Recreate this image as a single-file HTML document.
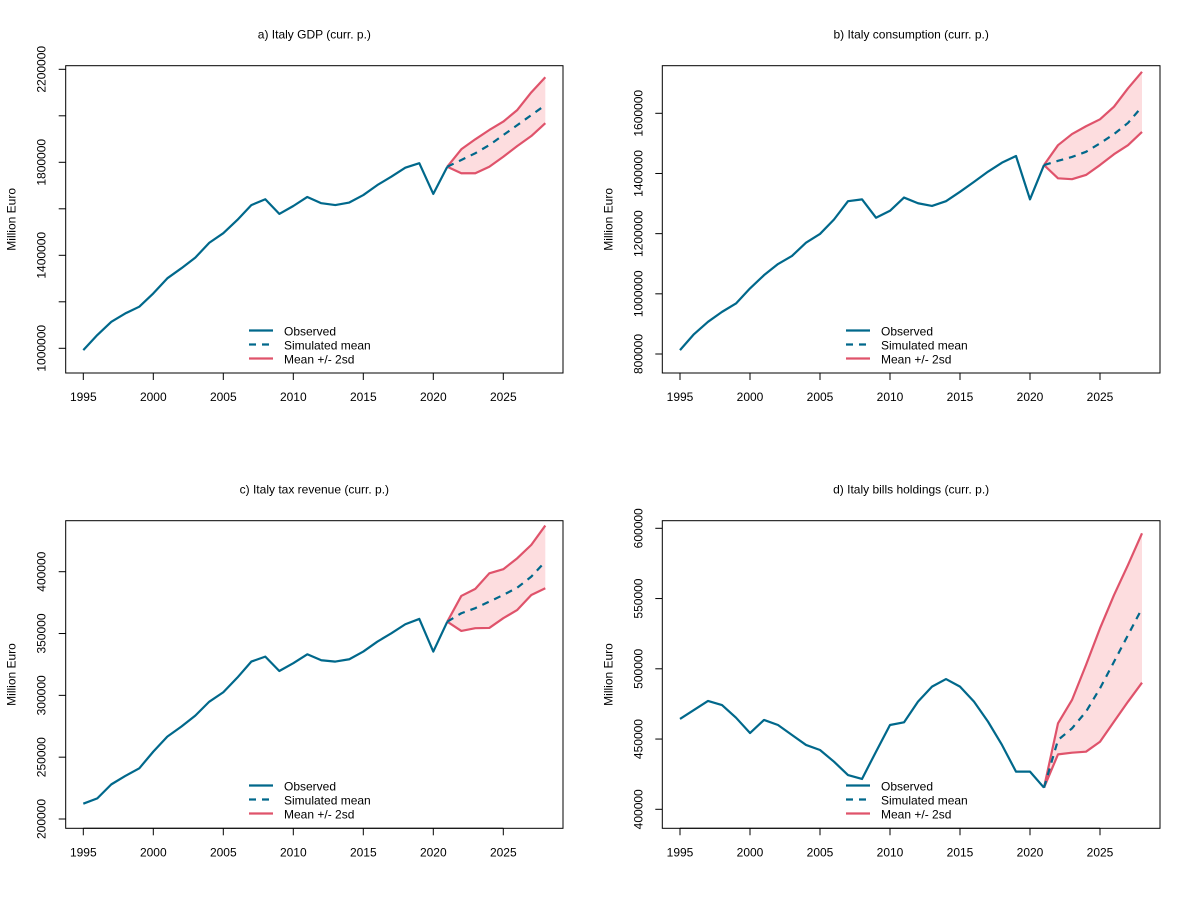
<!DOCTYPE html>
<html><head><meta charset="utf-8"><style>
body{margin:0;background:#fff;}
svg text{font-family:"Liberation Sans",Arial,sans-serif;fill:#000;}
</style></head><body>
<svg id="chart" width="1194" height="910" xmlns="http://www.w3.org/2000/svg"></svg>
<script>
const years = [1995,1996,1997,1998,1999,2000,2001,2002,2003,2004,2005,2006,2007,2008,2009,2010,2011,2012,2013,2014,2015,2016,2017,2018,2019,2020,2021];
const fcYears = [2021,2022,2023,2024,2025,2026,2027,2028];
const xTicks = [1995,2000,2005,2010,2015,2020,2025];

const gdpObs = [992000,1057000,1114000,1150000,1179000,1236000,1301000,1344000,1390000,1454000,1495000,1552000,1616000,1641000,1578000,1612000,1651000,1624000,1616000,1627000,1659000,1702000,1738000,1777000,1796000,1664000,1781000];
const gdpMean = [1781000,1810000,1839000,1874000,1917000,1960000,2003000,2046000];
const gdpUp = [1781000,1856000,1899000,1939000,1975000,2025000,2101000,2166000];
const gdpLo = [1781000,1753000,1753000,1781000,1824000,1870000,1913000,1968000];
const gdpTicks = [1000000,1200000,1400000,1600000,1800000,2000000,2200000];
const gdpLabels = ["1000000","","1400000","","1800000","","2200000"];

const conObs = [813000,866000,907000,940000,968000,1018000,1062000,1099000,1126000,1170000,1199000,1247000,1308000,1314000,1253000,1276000,1320000,1301000,1292000,1308000,1339000,1372000,1406000,1436000,1458000,1314000,1428000];
const conMean = [1428000,1442000,1455000,1472000,1500000,1531000,1568000,1622000];
const conUp = [1428000,1494000,1531000,1557000,1580000,1622000,1683000,1738000];
const conLo = [1428000,1384000,1381000,1395000,1428000,1464000,1494000,1538000];
const conTicks = [800000,1000000,1200000,1400000,1600000];
const conLabels = ["800000","1000000","1200000","1400000","1600000"];

const taxObs = [212400,216700,228000,234800,241000,254500,266600,274700,283600,294900,302500,314300,327300,331300,319700,326000,333200,328400,327300,329200,335400,343400,350200,357500,361800,335400,359600];
const taxMean = [359600,366400,370500,375800,381200,387100,396000,408200];
const taxUp = [359600,380400,386100,398700,402000,410900,421700,437300];
const taxLo = [359600,352100,354300,354500,362400,369100,381200,386600];
const taxTicks = [200000,250000,300000,350000,400000];
const taxLabels = ["200000","250000","300000","350000","400000"];

const billObs = [464300,470700,477100,474200,465200,454300,463600,460000,452900,445800,442200,433900,424400,421600,441000,460000,461900,476600,487300,492700,487300,476600,462400,445800,426800,426800,415400];
const billMean = [415400,449300,457600,469500,486100,505000,524000,543000];
const billUp = [415400,461200,477800,502700,528800,552500,573900,596400];
const billLo = [415400,439100,440300,441000,448100,462400,476600,490100];
const billTicks = [400000,450000,500000,550000,600000];
const billLabels = ["400000","450000","500000","550000","600000"];

const NS="http://www.w3.org/2000/svg";
const svg=document.getElementById('chart');
function mk(tag,attrs,parent){const e=document.createElementNS(NS,tag);for(const k in attrs)e.setAttribute(k,attrs[k]);(parent||svg).appendChild(e);return e;}
const TEAL="#00688B", RED="#DF536B", FILL="#FDDDDF";

function panel(p){
  const g=mk('g',{});
  
  
  const xs=y=>p.x0+(y-1995)*14;
  const ys=v=>p.py1+(v-p.v1)*(p.py2-p.py1)/(p.v2-p.v1);
  const t=mk('text',{x:(p.L+p.R)/2,y:p.T-27,'text-anchor':'middle','font-size':12},g);t.textContent=p.title;
  
  const yt=mk('text',{x:0,y:0,'text-anchor':'middle','font-size':12,transform:`translate(${p.L-50},${(p.T+p.B)/2}) rotate(-90)`},g);yt.textContent="Million Euro";
  
  let d='';fcYears.forEach((y,i)=>{d+=(i?'L':'M')+xs(y)+','+ys(p.up[i]);});
  for(let i=fcYears.length-1;i>=0;i--)d+='L'+xs(fcYears[i])+','+ys(p.lo[i]);
  const band=mk('path',{d:d+'Z',fill:FILL,stroke:'none'},g);
  
  const line=(xv,yv,col,dash,name)=>{const e=mk('polyline',{points:xv.map((y,i)=>xs(y)+','+ys(yv[i])).join(' '),fill:'none',stroke:col,'stroke-width':2.2,'stroke-dasharray':dash||'none','stroke-linejoin':'round'},g);
    };
  line(fcYears,p.up,RED,null,'upper-bound-line');
  line(fcYears,p.lo,RED,null,'lower-bound-line');
  line(years,p.obs,TEAL,null,'observed-line');
  line(fcYears,p.mean,TEAL,'7,6','simulated-mean-line');
  const box=mk('rect',{x:p.L,y:p.T,width:p.R-p.L,height:p.B-p.T,fill:'none',stroke:'#000','stroke-width':1},g);
  
  xTicks.forEach(y=>{const x=xs(y);mk('line',{x1:x,x2:x,y1:p.B,y2:p.B+7,stroke:'#000'},g);
    const tl=mk('text',{x:x,y:p.B+28,'text-anchor':'middle','font-size':12},g);tl.textContent=y;
    });
  mk('line',{x1:xs(1995),x2:xs(2025),y1:p.B,y2:p.B,stroke:'#000'},g);
  p.ticks.forEach((v,i)=>{const y=ys(v);mk('line',{x1:p.L-7,x2:p.L,y1:y,y2:y,stroke:'#000'},g);
    if(p.labels[i]){const tl=mk('text',{x:0,y:0,'text-anchor':'middle','font-size':12,transform:`translate(${p.L-20},${y}) rotate(-90)`},g);tl.textContent=p.labels[i];
    }});
  const lg=mk('g',{},g);
  const items=[["Observed",TEAL,null],["Simulated mean",TEAL,'7,6'],["Mean +/- 2sd",RED,null]];
  items.forEach((it,i)=>{const y=p.legY+i*14;
    mk('line',{x1:p.legX,x2:p.legX+24,y1:y,y2:y,stroke:it[1],'stroke-width':2.2,'stroke-dasharray':it[2]||'none'},lg);
    const tx=mk('text',{x:p.legX+35,y:y+5,'font-size':12},lg);tx.textContent=it[0];
    });
}
panel({name:'panel-gdp',title:'a) Italy GDP (curr. p.)',L:65.7,R:563,T:65.7,B:373,x0:83.3,v1:1000000,py1:348.3,v2:2200000,py2:69.3,obs:gdpObs,mean:gdpMean,up:gdpUp,lo:gdpLo,ticks:gdpTicks,labels:gdpLabels,legX:249,legY:330.5});
panel({name:'panel-consumption',title:'b) Italy consumption (curr. p.)',L:662.3,R:1160,T:65.7,B:373,x0:680,v1:800000,py1:354,v2:1600000,py2:113.3,obs:conObs,mean:conMean,up:conUp,lo:conLo,ticks:conTicks,labels:conLabels,legX:846,legY:330.5});
panel({name:'panel-tax-revenue',title:'c) Italy tax revenue (curr. p.)',L:65.7,R:563,T:520.7,B:828.3,x0:83.3,v1:200000,py1:819,v2:400000,py2:571.7,obs:taxObs,mean:taxMean,up:taxUp,lo:taxLo,ticks:taxTicks,labels:taxLabels,legX:249,legY:785.5});
panel({name:'panel-bills',title:'d) Italy bills holdings (curr. p.)',L:662.3,R:1160,T:520.7,B:828.3,x0:680,v1:400000,py1:809.3,v2:600000,py2:528.3,obs:billObs,mean:billMean,up:billUp,lo:billLo,ticks:billTicks,labels:billLabels,legX:846,legY:785.5});
</script>
</body></html>
